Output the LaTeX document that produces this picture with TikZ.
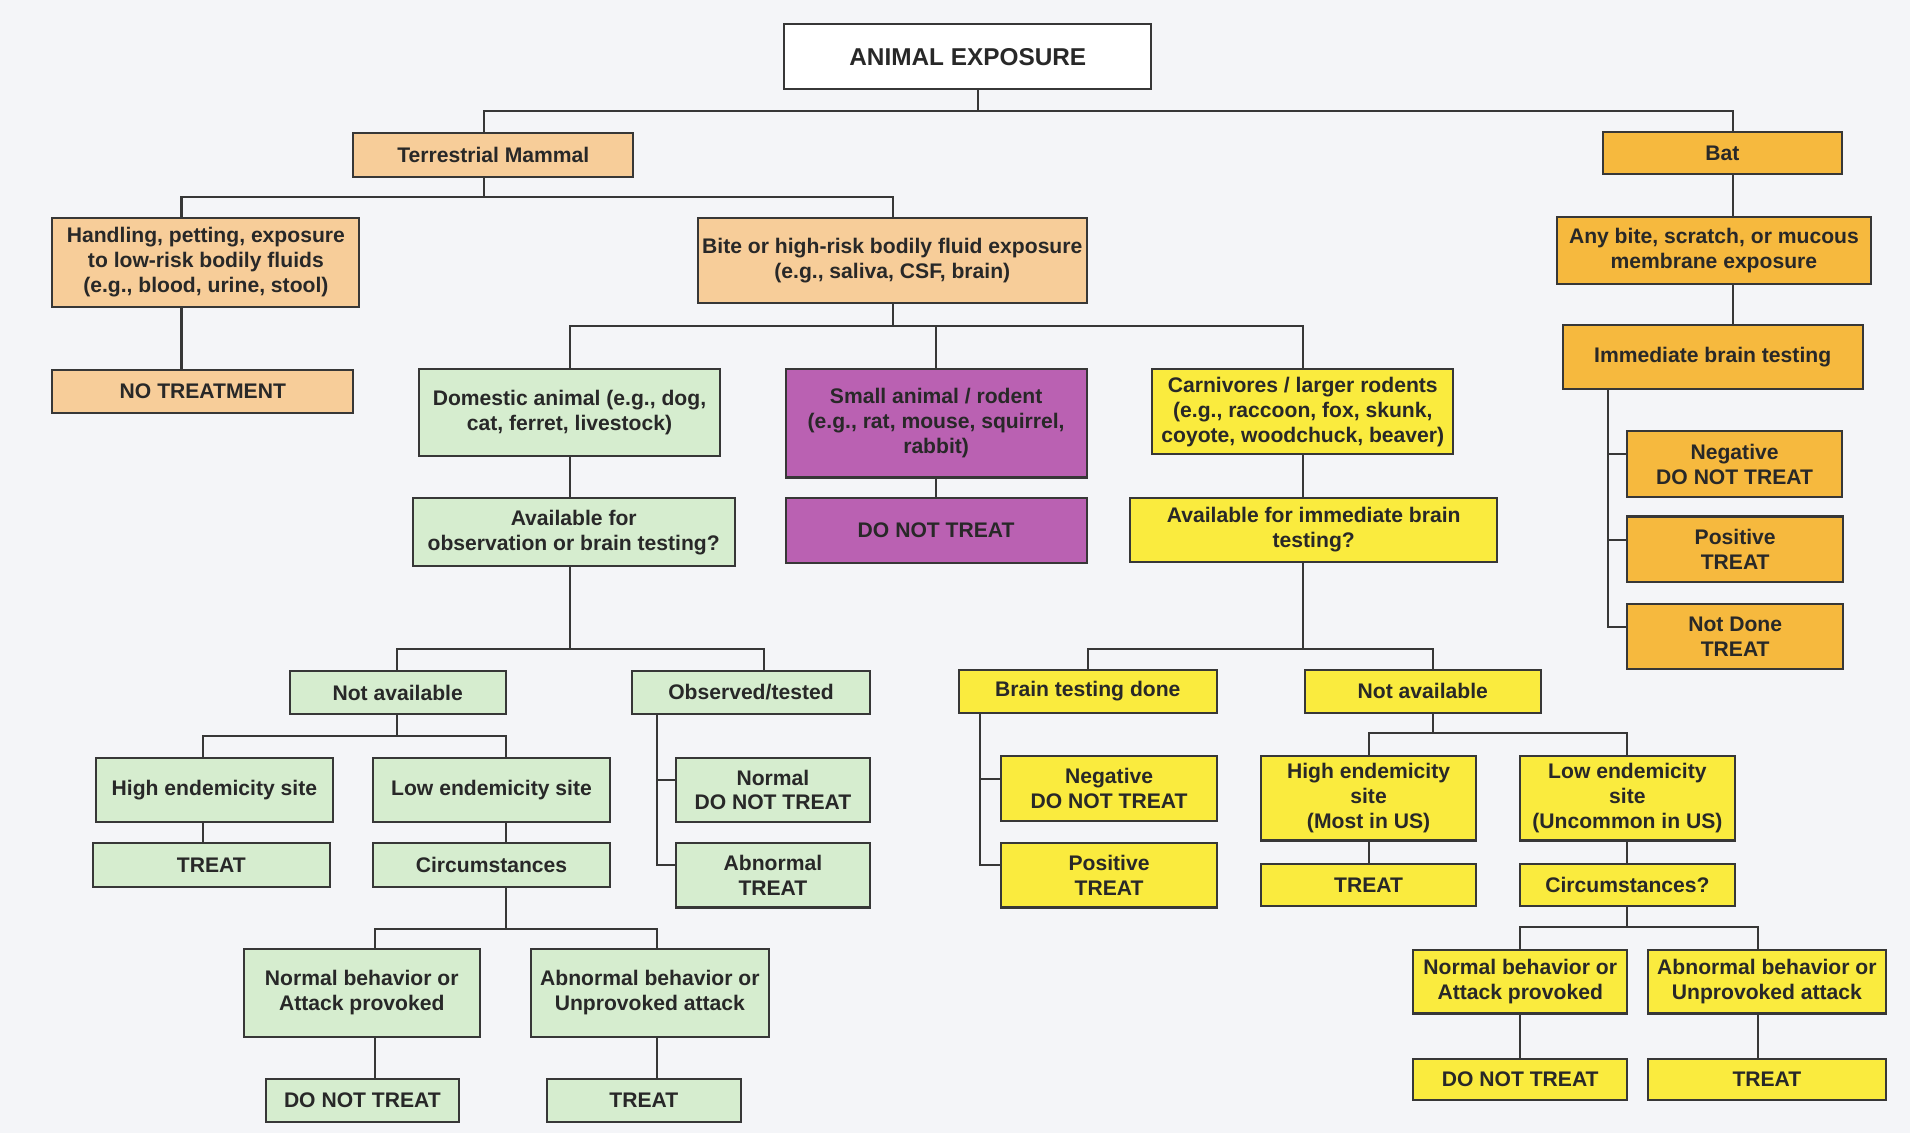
\documentclass[tikz,border=0pt]{standalone}
\usepackage{fontspec}
\setmainfont{Liberation Sans}
\usetikzlibrary{calc}
\definecolor{cBg}{RGB}{244,245,248}
\definecolor{cTan}{RGB}{247,205,153}
\definecolor{cOrg}{RGB}{246,185,62}
\definecolor{cGrn}{RGB}{214,237,207}
\definecolor{cPur}{RGB}{186,97,178}
\definecolor{cYel}{RGB}{250,235,62}
\definecolor{cLn}{RGB}{55,55,55}
\definecolor{cTxt}{RGB}{40,40,40}
\tikzset{
  box/.style={draw=cLn, line width=1pt, align=center, inner sep=1pt,
    font=\fontsize{10.4}{12.3}\selectfont\bfseries, text=cTxt},
  rootbox/.style={box, fill=white, font=\fontsize{12}{14}\selectfont\bfseries},
  tanbox/.style={box, fill=cTan},
  orgbox/.style={box, fill=cOrg},
  grnbox/.style={box, fill=cGrn},
  purbox/.style={box, fill=cPur},
  yelbox/.style={box, fill=cYel},
  conn/.style={draw=cLn, line width=1pt},
}
\newcommand\bx[7]{%
  \pgfmathsetmacro\bxcx{(#2+#4)/2}%
  \pgfmathsetmacro\bxcy{(#3+#5)/2}%
  \pgfmathsetmacro\bxw{(#4-#2)*0.6}%
  \pgfmathsetmacro\bxh{(#5-#3)*0.6}%
  \node[#6, minimum width=\bxw pt, minimum height=\bxh pt] (#1) at (\bxcx,-\bxcy) {#7};}
% parent, drop x, bus y, list child/x
\newcommand\bus[4]{%
  \draw[conn] (#1.south -| #2,0) -- (#2,-#3);
  \foreach \c/\cx in {#4} {\draw[conn] (#2,-#3) -| (\c.north -| \cx,0);}}
% upper node, lower node, x
\newcommand\vl[3]{\draw[conn] (#1.south -| #3,0) -- (#2.north -| #3,0);}
\begin{document}
\begin{tikzpicture}[x=0.6pt,y=0.6pt]
\fill[cBg] (0,0) rectangle (1568,-930);
\useasboundingbox (0,0) rectangle (1568,-930);
% nodes
\bx{root}{644}{20}{945}{73}{rootbox}{ANIMAL EXPOSURE}
\bx{terr}{290}{109}{520}{145}{tanbox}{Terrestrial Mammal}
\bx{bat}{1316}{108}{1512}{143}{orgbox}{Bat}
\bx{hand}{43}{179}{295}{252}{tanbox}{Handling, petting, exposure\\to low-risk bodily fluids\\(e.g., blood, urine, stool)}
\bx{bite}{573}{179}{892}{249}{tanbox}{Bite or high-risk bodily fluid exposure\\(e.g., saliva, CSF, brain)}
\bx{notreat}{43}{304}{290}{339}{tanbox}{NO TREATMENT}
\bx{any}{1278}{178}{1536}{233}{orgbox}{Any bite, scratch, or mucous\\membrane exposure}
\bx{imm}{1283}{267}{1529}{319}{orgbox}{Immediate brain testing}
\bx{bneg}{1336}{354}{1512}{408}{orgbox}{Negative\\DO NOT TREAT}
\bx{bpos}{1336}{424}{1513}{478}{orgbox}{Positive\\TREAT}
\bx{bnd}{1336}{496}{1513}{549}{orgbox}{Not Done\\TREAT}
\bx{dom}{344}{303}{591}{374}{grnbox}{Domestic animal (e.g., dog,\\cat, ferret, livestock)}
\bx{small}{645}{303}{892}{392}{purbox}{Small animal / rodent\\(e.g., rat, mouse, squirrel,\\rabbit)}
\bx{carn}{946}{303}{1193}{373}{yelbox}{Carnivores / larger rodents\\(e.g., raccoon, fox, skunk,\\coyote, woodchuck, beaver)}
\bx{avobs}{339}{409}{603}{465}{grnbox}{Available for\\observation or brain testing?}
\bx{sdnt}{645}{409}{892}{462}{purbox}{DO NOT TREAT}
\bx{avimm}{928}{409}{1229}{461}{yelbox}{Available for immediate brain\\testing?}
\bx{gna}{238}{551}{415}{586}{grnbox}{Not available}
\bx{gobs}{519}{551}{714}{586}{grnbox}{Observed/tested}
\bx{ghigh}{79}{622}{273}{675}{grnbox}{High endemicity site}
\bx{glow}{306}{622}{501}{675}{grnbox}{Low endemicity site}
\bx{gtreat1}{76}{692}{271}{728}{grnbox}{TREAT}
\bx{gcirc}{306}{692}{501}{728}{grnbox}{Circumstances}
\bx{gnorm}{555}{622}{714}{675}{grnbox}{Normal\\DO NOT TREAT}
\bx{gabn}{555}{692}{714}{745}{grnbox}{Abnormal\\TREAT}
\bx{gnb}{200}{779}{394}{851}{grnbox}{Normal behavior or\\Attack provoked}
\bx{gab}{436}{779}{631}{851}{grnbox}{Abnormal behavior or\\Unprovoked attack}
\bx{gdnt}{218}{886}{377}{921}{grnbox}{DO NOT TREAT}
\bx{gtreat2}{449}{886}{608}{921}{grnbox}{TREAT}
\bx{ybt}{787}{550}{999}{585}{yelbox}{Brain testing done}
\bx{yna}{1071}{550}{1265}{585}{yelbox}{Not available}
\bx{yneg}{822}{621}{999}{674}{yelbox}{Negative\\DO NOT TREAT}
\bx{ypos}{822}{692}{999}{745}{yelbox}{Positive\\TREAT}
\bx{yhigh}{1035}{621}{1212}{690}{yelbox}{High endemicity\\site\\(Most in US)}
\bx{ylow}{1248}{621}{1424}{690}{yelbox}{Low endemicity\\site\\(Uncommon in US)}
\bx{ytreat1}{1035}{709}{1212}{744}{yelbox}{TREAT}
\bx{ycirc}{1248}{709}{1424}{744}{yelbox}{Circumstances?}
\bx{ynb}{1160}{780}{1336}{832}{yelbox}{Normal behavior or\\Attack provoked}
\bx{yab}{1353}{780}{1548}{832}{yelbox}{Abnormal behavior or\\Unprovoked attack}
\bx{ydnt}{1160}{869}{1336}{903}{yelbox}{DO NOT TREAT}
\bx{ytreat2}{1353}{869}{1548}{903}{yelbox}{TREAT}
% tree connectors
\bus{root}{803}{91}{terr/397,bat/1423}
\bus{terr}{397}{162}{hand/149,bite/733}
\bus{bite}{733}{268}{dom/468,small/768,carn/1070}
\bus{avobs}{468}{533}{gna/326,gobs/627}
\bus{gna}{326}{604}{ghigh/167,glow/415}
\bus{gcirc}{415}{763}{gnb/308,gab/539}
\bus{avimm}{1070}{533}{ybt/893,yna/1176}
\bus{yna}{1176}{602}{yhigh/1124,ylow/1336}
\bus{ycirc}{1336}{761}{ynb/1248,yab/1443}
% straight connectors
\vl{hand}{notreat}{149}
\vl{bat}{any}{1423}
\vl{any}{imm}{1423}
\vl{dom}{avobs}{468}
\vl{small}{sdnt}{768}
\vl{carn}{avimm}{1070}
\vl{ghigh}{gtreat1}{167}
\vl{glow}{gcirc}{415}
\vl{gnb}{gdnt}{308}
\vl{gab}{gtreat2}{539}
\vl{yhigh}{ytreat1}{1124}
\vl{ylow}{ycirc}{1336}
\vl{ynb}{ydnt}{1248}
\vl{yab}{ytreat2}{1443}
% bracket connectors
\path (gnorm.west) ++(-15,0) coordinate (gx);
\draw[conn] (gx |- gobs.south) |- ([yshift=4.8pt]gnorm.west);
\draw[conn] (gx |- gobs.south) |- ([yshift=4.8pt]gabn.west);
\path (yneg.west) ++(-17,0) coordinate (yx);
\draw[conn] (yx |- ybt.south) |- ([yshift=4.8pt]yneg.west);
\draw[conn] (yx |- ybt.south) |- ([yshift=4.8pt]ypos.west);
\path (bneg.west) ++(-15,0) coordinate (ix);
\draw[conn] (ix |- imm.south) |- ([yshift=4.8pt]bneg.west);
\draw[conn] (ix |- imm.south) |- ([yshift=4.8pt]bpos.west);
\draw[conn] (ix |- imm.south) |- ([yshift=4.8pt]bnd.west);
\end{tikzpicture}
\end{document}
